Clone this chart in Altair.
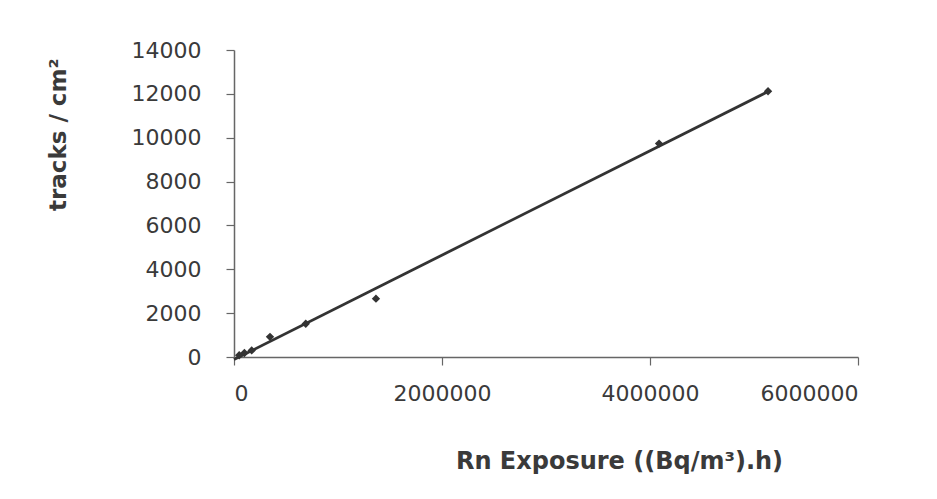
import altair as alt
import pandas as pd

exposure = [50000, 100000, 170000, 346000, 690000, 1365000, 4087000, 5135000]
tracks = [80, 180, 300, 918, 1515, 2662, 9731, 12118]

df = pd.DataFrame({"x": exposure, "y": tracks})

xs = alt.Scale(domain=[0, 6000000], nice=False)
ys = alt.Scale(domain=[0, 14000], nice=False)

x_axis = alt.Axis(
    values=[0, 2000000, 4000000, 6000000], format="d", grid=False,
    title="Rn Exposure ((Bq/m³).h)", titleFont="DejaVu Sans", titleFontSize=24,
    titleFontWeight="bold", titleColor="#3a3a3a", titleX=385, titleY=92,
    titleAnchor="middle",
    labelFont="DejaVu Sans", labelFontSize=22, labelColor="#3a3a3a", labelPadding=18,
    tickSize=8, tickColor="#666", domainColor="#666", domainWidth=1.5, tickWidth=1.2,
)
y_axis = alt.Axis(
    values=list(range(0, 14001, 2000)), format="d", grid=False,
    title="tracks / cm²", titleFont="DejaVu Sans", titleFontSize=23,
    titleFontWeight="bold", titleColor="#3a3a3a", titleAnchor="end",
    titleX=-164, titleY=8, titleAlign="right", titleAngle=270,
    labelFont="DejaVu Sans", labelFontSize=22, labelColor="#3a3a3a", labelPadding=25,
    tickSize=8, tickColor="#666", domainColor="#666", domainWidth=1.5, tickWidth=1.2,
)

base = alt.Chart(df)

points = base.mark_point(shape="diamond", filled=True, color="#333", size=70, opacity=1).encode(
    x=alt.X("x:Q", scale=xs, axis=x_axis),
    y=alt.Y("y:Q", scale=ys, axis=y_axis),
)

line = base.transform_regression("x", "y", extent=[0, 5135000]).mark_line(
    color="#333", strokeWidth=2.8
).encode(
    x=alt.X("x:Q", scale=xs),
    y=alt.Y("y:Q", scale=ys),
)

chart = (line + points).properties(
    width=624, height=307,
    background="white",
    autosize=alt.AutoSizeParams(type="none"),
    padding={"left": 234, "top": 50, "right": 79, "bottom": 142},
).configure_view(stroke=None)

chart.save("out.html", embed_options={"renderer": "svg", "actions": False})
